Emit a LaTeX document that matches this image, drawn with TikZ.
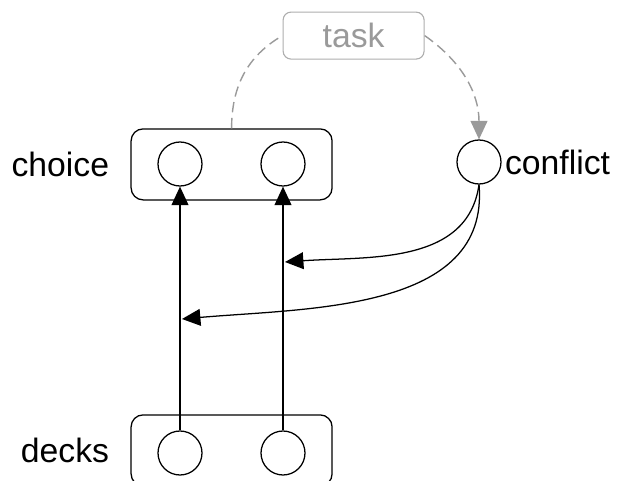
\documentclass[tikz,border=0pt]{standalone}
\usepackage{fontspec}
\setmainfont{Liberation Sans}
\usetikzlibrary{arrows.meta,positioning,shapes}
\definecolor{taskgray}{HTML}{9A9A9A}

\begin{document}
\begin{tikzpicture}[->,>={Triangle[length=0.46cm,width=0.42cm]},auto,line width=0.9pt,font=\fontsize{24}{29}\selectfont]
\tikzstyle{unit}=[draw,circle,minimum size=1.1cm,inner sep=0pt]
\tikzstyle{layer}=[draw,rectangle,rounded corners=0.3cm,minimum width=5.025cm,minimum height=1.775cm]
\tikzstyle{lbl}=[inner sep=0.07cm]
\tikzstyle{ctx}=[draw=taskgray!80,text=taskgray,rounded corners=0.2cm,minimum width=3.525cm,minimum height=1.175cm,line width=0.8pt]
\tikzstyle{gate}=[taskgray,line width=1pt,dash pattern=on 0.26cm off 0.14cm]

\useasboundingbox (0,0) rectangle (15.5,12);

\node[layer]        (cBox) at (5.79,7.89)    {};
\node[unit]         (cL) at (4.5,7.9)        {};
\node[unit]         (cR) [right of=cL,node distance=2.575cm] {};
\node[layer]        (dBox) at (5.79,0.74)    {};
\node[unit]         (dL) at (4.5,0.675)      {};
\node[unit]         (dR) [right of=dL,node distance=2.575cm] {};
\node[unit]         (conf) at (11.975,7.95)  {};
\node[ctx]          (task) at (8.84,11.11)   {task};

\node[lbl]          (cLbl) [left=0.45cm of cBox] {choice};
\node[lbl]          (dLbl) [left=0.45cm of dBox] {decks};
\node[lbl]          (fLbl) [right=0.0cm of conf] {conflict};

\coordinate (hitR) at (7.125,5.45);
\coordinate (hitL) at (4.55,4.025);

\path
(dL) edge (cL)
(dR) edge (cR)
(conf.south) edge[out=-98,in=4] (hitR)
(conf.south) edge[out=-85,in=5] (hitL)
;
\draw[-,gate] (cBox.north) to[out=90,in=-150] (task.west);
\draw[gate] (task.east) to[out=-35,in=90] (conf.north);
\end{tikzpicture}
\end{document}
